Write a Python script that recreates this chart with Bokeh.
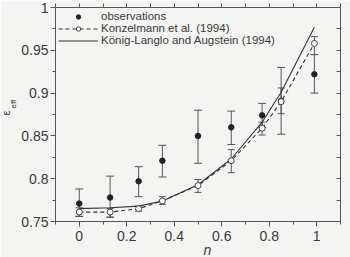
from bokeh.plotting import figure
from bokeh.models import (ColumnDataSource, Whisker, TeeHead, LinearAxis, FixedTicker,
                          CustomJSTickFormatter, Legend, LegendItem, Title)
from bokeh.embed import file_html
from bokeh.resources import INLINE

# ---- data ----
n_vals = [0, 0.13, 0.25, 0.35, 0.5, 0.64, 0.77, 0.85, 0.99]
obs = [0.771, 0.778, 0.797, 0.821, 0.850, 0.860, 0.874, 0.891, 0.922]
obs_lo = [0.756, 0.755, 0.779, 0.802, 0.818, 0.840, 0.860, 0.852, 0.900]
obs_hi = [0.788, 0.803, 0.814, 0.839, 0.880, 0.879, 0.888, 0.930, 0.945]
konz = [0.761, 0.761, 0.765, 0.774, 0.792, 0.821, 0.859, 0.890, 0.958]
konz_lo = [0.756, 0.755, 0.762, 0.770, 0.784, 0.807, 0.851, 0.876, 0.945]
konz_hi = [0.766, 0.765, 0.768, 0.779, 0.799, 0.834, 0.866, 0.906, 0.966]
kla = [0.765, 0.766, 0.768, 0.774, 0.793, 0.823, 0.866, 0.901, 0.977]

x_ticks = [0, 0.2, 0.4, 0.6, 0.8, 1]
x_minor = [-0.1, 0.1, 0.3, 0.5, 0.7, 0.9, 1.1]
y_ticks = [0.75, 0.8, 0.85, 0.9, 0.95, 1]
y_minor = [0.775, 0.825, 0.875, 0.925, 0.975]
top_ticks = [-0.1, 0, 0.1, 0.2, 0.3, 0.4, 0.5, 0.6, 0.7, 0.8, 0.9, 1.0, 1.1]
right_ticks = [0.775, 0.8, 0.825, 0.85, 0.875, 0.9, 0.925, 0.95, 0.975]

labels = ["observations", "Konzelmann et al. (1994)", "König-Langlo and Augstein (1994)"]
x_label = "n"
y_label_main = "ε"
y_label_sub = "eff"

FONT = "Liberation Sans"
BG = "#f4f4f2"
AX = "#555555"
TXT = "#3a3a3a"
LN = "#333333"

p = figure(width=350, height=257, x_range=(-0.1, 1.1), y_range=(0.75, 1.0),
           output_backend="svg", toolbar_location=None,
           min_border_left=55, min_border_right=10, min_border_top=7, min_border_bottom=36,
           x_axis_location=None, y_axis_location=None)
p.background_fill_color = BG
p.border_fill_color = BG
p.outline_line_color = None
p.grid.visible = False

fmt = CustomJSTickFormatter(code="return String(tick);")
blank = CustomJSTickFormatter(code="return '';")

def style(ax, show_labels):
    ax.axis_line_color = AX
    ax.major_tick_line_color = AX
    ax.minor_tick_line_color = AX
    ax.major_label_text_font = FONT
    if show_labels:
        ax.major_label_text_color = TXT
        ax.major_label_text_font_size = "14px"
        ax.major_label_standoff = 4
    else:
        ax.major_label_text_color = None
        ax.major_label_text_font_size = "0px"
        ax.major_label_standoff = 0

xb = LinearAxis(ticker=FixedTicker(ticks=x_ticks, minor_ticks=x_minor), formatter=fmt)
style(xb, True)
xb.major_tick_out = 5; xb.major_tick_in = 0
xb.minor_tick_out = 3; xb.minor_tick_in = 0
p.add_layout(xb, "below")

yl = LinearAxis(ticker=FixedTicker(ticks=y_ticks, minor_ticks=y_minor), formatter=fmt)
style(yl, True)
yl.major_tick_out = 5; yl.major_tick_in = 0
yl.minor_tick_out = 3; yl.minor_tick_in = 0
yl.major_label_standoff = 2
p.add_layout(yl, "left")

xt = LinearAxis(ticker=FixedTicker(ticks=top_ticks), formatter=blank)
style(xt, False)
xt.major_tick_out = 4; xt.major_tick_in = 0
xt.minor_tick_out = 0; xt.minor_tick_in = 0
p.add_layout(xt, "above")

yr = LinearAxis(ticker=FixedTicker(ticks=right_ticks), formatter=blank)
style(yr, False)
yr.major_tick_out = 0; yr.major_tick_in = 4
yr.minor_tick_out = 0; yr.minor_tick_in = 0
p.add_layout(yr, "right")

# axis titles as Title annotations in the side panels
t_sub = Title(text=y_label_sub, align="left", offset=113, standoff=1,
              text_font=FONT, text_font_size="8px", text_font_style="normal",
              text_color=TXT)
t_main = Title(text=y_label_main, align="left", offset=106, standoff=-11,
               text_font=FONT, text_font_size="11px", text_font_style="normal",
               text_color=TXT)
p.add_layout(t_sub, "left")
p.add_layout(t_main, "left")
t_n = Title(text=x_label, align="left", offset=148, standoff=-7,
            text_font=FONT, text_font_size="14px", text_font_style="italic",
            text_color=TXT)
p.add_layout(t_n, "below")

src = ColumnDataSource(dict(n=n_vals, obs=obs, obs_lo=obs_lo, obs_hi=obs_hi,
                            konz=konz, konz_lo=konz_lo, konz_hi=konz_hi, kla=kla))

w_obs = Whisker(base="n", lower="obs_lo", upper="obs_hi", source=src, dimension="height",
                line_color="#555555", line_width=1,
                upper_head=TeeHead(size=8, line_color="#555555", line_width=1),
                lower_head=TeeHead(size=8, line_color="#555555", line_width=1))
w_konz = Whisker(base="n", lower="konz_lo", upper="konz_hi", source=src, dimension="height",
                 line_color="#555555", line_width=1,
                 upper_head=TeeHead(size=7, line_color="#555555", line_width=1),
                 lower_head=TeeHead(size=7, line_color="#555555", line_width=1))
p.add_layout(w_obs)
p.add_layout(w_konz)

r_kla = p.line("n", "kla", source=src, line_color=LN, line_width=1.1)
r_konz_line = p.line("n", "konz", source=src, line_color=LN, line_width=1.1, line_dash="4 3")
r_obs = p.scatter("n", "obs", source=src, marker="circle", size=5.5,
                  fill_color="#222222", line_color="#222222")
r_konz_pts = p.scatter("n", "konz", source=src, marker="circle", size=6,
                       fill_color="white", line_color="#444444", line_width=1)

legend = Legend(items=[
    LegendItem(label=labels[0], renderers=[r_obs]),
    LegendItem(label=labels[1], renderers=[r_konz_line, r_konz_pts]),
    LegendItem(label=labels[2], renderers=[r_kla]),
], location="top_left")
legend.background_fill_alpha = 0
legend.border_line_color = None
legend.margin = 3
legend.padding = 0
legend.spacing = 0
legend.label_height = 11
legend.glyph_height = 11
legend.glyph_width = 40
legend.label_standoff = 3
legend.label_text_font = FONT
legend.label_text_font_size = "11.5px"
legend.label_text_color = TXT
legend.label_text_line_height = 1.0
p.add_layout(legend)

open("out.html", "w").write(file_html(p, INLINE))
